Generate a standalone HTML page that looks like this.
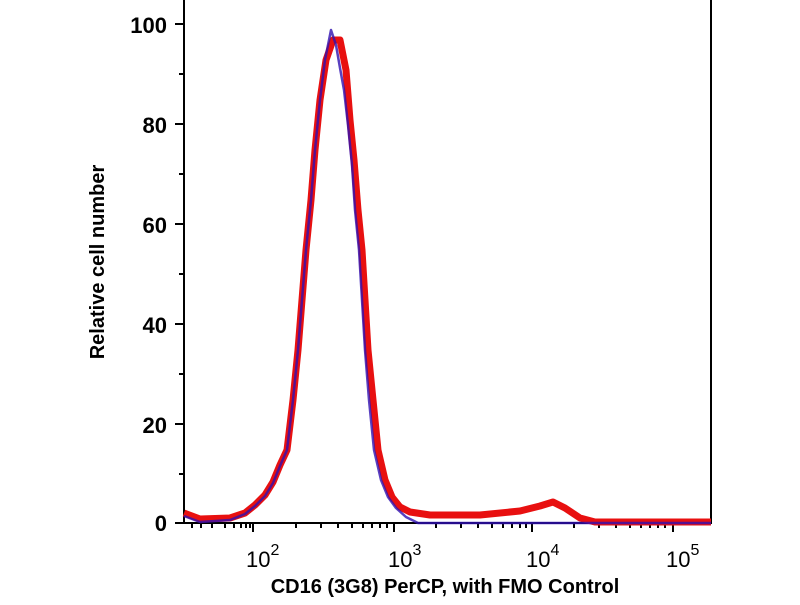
<!DOCTYPE html>
<html><head><style>body{margin:0;background:#fff}</style></head><body>
<svg width="800" height="600" xmlns="http://www.w3.org/2000/svg" font-family="Liberation Sans, sans-serif" font-weight="bold">
<g stroke="#000" stroke-width="2" fill="none">
<path d="M184,0 V523 H711 V0"/>
<path d="M175,24H184M175,124H184M175,224H184M175,324H184M175,424H184M175,523H184"/>
<path d="M179,74H184M179,174H184M179,274H184M179,374H184M179,474H184"/>
<path d="M253,523v9M394,523v9M532,523v9M673,523v9"/>
<path d="M212,523v5M225,523v5M234,523v5M241,523v5M246,523v5M250,523v5
M296,523v5M321,523v5M338,523v5M352,523v5M363,523v5M372,523v5M380,523v5M387,523v5
M436,523v5M461,523v5M478,523v5M492,523v5M503,523v5M512,523v5M520,523v5M526,523v5
M574,523v5M599,523v5M616,523v5M630,523v5M641,523v5M650,523v5M658,523v5M665,523v5
M201,523v5M192,523v5"/>
</g>
<g font-size="22" text-anchor="end">
<text x="167" y="33">100</text><text x="167" y="133">80</text><text x="167" y="233">60</text>
<text x="167" y="333">40</text><text x="167" y="433">20</text><text x="167" y="531">0</text>
</g>
<g font-size="22" font-weight="normal">
<text x="246" y="567">10<tspan dy="-12" font-size="16">2</tspan></text>
<text x="388" y="567">10<tspan dy="-12" font-size="16">3</tspan></text>
<text x="526" y="567">10<tspan dy="-12" font-size="16">4</tspan></text>
<text x="666" y="567">10<tspan dy="-12" font-size="16">5</tspan></text>
</g>
<text x="445" y="593" font-size="20" text-anchor="middle">CD16 (3G8) PerCP, with FMO Control</text>
<text transform="translate(104,262) rotate(-90)" font-size="20" text-anchor="middle">Relative cell number</text>
<path fill="none" stroke="#e81010" stroke-width="7" stroke-linejoin="round" d="M184,513 L200,519 L230,518 L245,513 L255,505 L265,495 L273,482 L280,465 L287,450 L293,400 L298,350 L302,300 L306,250 L311,200 L315,150 L320,100 L326,60 L333,40 L340,40 L346,70 L350,120 L354,160 L358,210 L362,250 L365,300 L368,350 L373,400 L378,450 L385,480 L392,497 L400,507 L410,512 L430,515 L480,515 L520,511 L540,506 L553,502 L565,508 L580,518 L595,522 L711,522"/>
<path fill="none" stroke="#3010b0" stroke-opacity="0.8" stroke-width="2.5" stroke-linejoin="round" d="M184,516 L200,522 L230,520 L245,514 L255,506 L265,496 L273,483 L280,466 L287,450 L293,400 L298,350 L302,300 L306,250 L311,200 L315,150 L320,100 L325,60 L331,30 L336,45 L340,68 L344,90 L348,125 L352,165 L355,210 L359,250 L362,300 L365,350 L369,400 L374,450 L381,480 L388,497 L396,508 L406,517 L418,523 L711,523"/>
</svg>
</body></html>
